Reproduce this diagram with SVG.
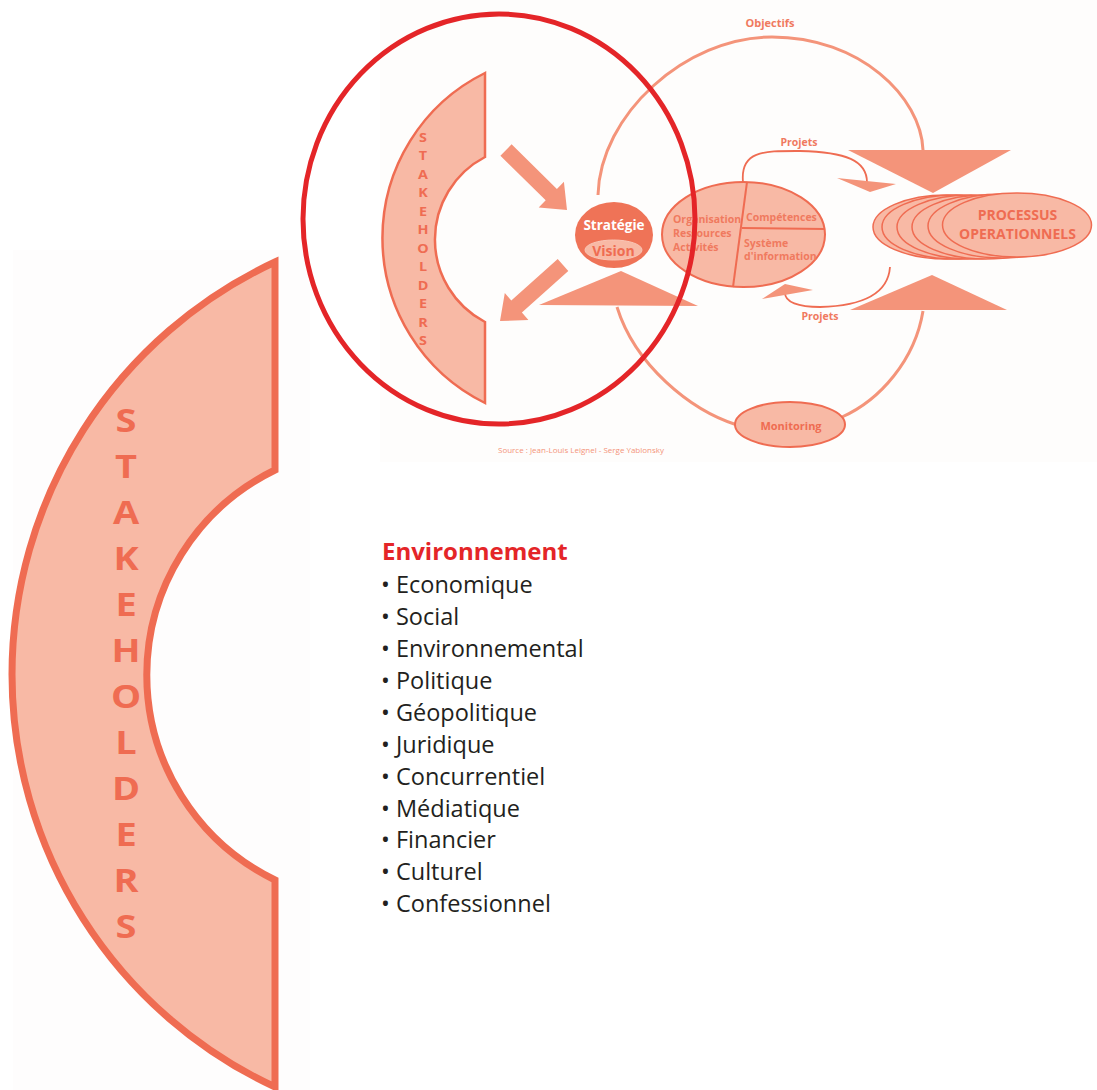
<svg xmlns="http://www.w3.org/2000/svg" width="1097" height="1090" viewBox="0 0 1097 1090">
<style>
.shape{fill:#f8b9a5;stroke:#ef6c52;}
.med{fill:#f4947a;stroke:none;}
.loop{fill:none;stroke:#f4947a;stroke-width:3;}
.lbl{font-family:"Open Sans","Liberation Sans",sans-serif;font-weight:bold;fill:#ef6c52;}
.lbl2{font-family:"Open Sans","Liberation Sans",sans-serif;font-weight:bold;fill:#f07a5f;}
.item{font-family:"Open Sans","Liberation Sans",sans-serif;font-size:23.5px;fill:#231f20;}
.mid{text-anchor:middle;}
</style>
<rect x="0" y="0" width="1097" height="1090" fill="#ffffff"/>
<rect x="380" y="0" width="717" height="462" fill="#fefdfc"/>
<rect x="13" y="250" width="297" height="840" fill="#fefdfd"/>

<g id="connectors">
  <path class="loop" d="M598,195 C600,115 685,37 772,37 C860,37 921,97 923,150"/>
  <path class="loop" d="M923,311 C915,360 880,400 842,417"/>
  <path class="loop" d="M617,307 C635,365 690,410 737,425"/>
  <path fill="none" stroke="#ef6c52" stroke-width="1.8" d="M743,182 C740,150 765,151 800,151 C845,152 868,160 867,184"/>
  <polygon points="837,178 896,184 870,192" fill="#f4947a"/>
  <path fill="none" stroke="#ef6c52" stroke-width="1.8" d="M890,267 C888,295 860,306 820,307 C798,307 785,302 785,293"/>
  <polygon points="762,299 785,284 813,290" fill="#f4947a"/>
  <polygon id="arrow-in" class="med" points="511.6,144.3 556.9,188.9 563.9,181.8 567,210 538.7,207.4 545.7,200.3 500.4,155.7"/>
  <polygon id="arrow-out" class="med" points="557.7,259 511.3,300.5 504.8,293 500,321 528.4,320.1 521.9,312.5 568.3,271"/>
  <polygon id="tri-strat" class="med" points="539,305 698,306 621,271"/>
  <polygon id="tri-down" class="med" points="848,150 1011,150 933,193"/>
  <polygon id="tri-up" class="med" points="850,310 1007,310 932,275"/>
</g>

<g id="big-stakeholders">
  <path class="shape" stroke-width="7" d="M275,262 A455,455 0 0,0 275,1087 L275,880 A228,228 0 0,1 275,470 Z"/>
  <g class="lbl" font-size="33" text-anchor="middle" transform="translate(126,0) scale(1.15,1)">
    <text x="0" y="432">S</text>
    <text x="0" y="478">T</text>
    <text x="0" y="524">A</text>
    <text x="0" y="570">K</text>
    <text x="0" y="616">E</text>
    <text x="0" y="662">H</text>
    <text x="0" y="708">O</text>
    <text x="0" y="754">L</text>
    <text x="0" y="800">D</text>
    <text x="0" y="846">E</text>
    <text x="0" y="892">R</text>
    <text x="0" y="938">S</text>
  </g>
</g>

<g id="small-stakeholders">
  <path class="shape" stroke-width="2.5" d="M485,73 A184,184 0 0,0 485,403 L485,322 A93,93 0 0,1 485,157 Z"/>
  <g class="lbl" font-size="12.5" text-anchor="middle" transform="translate(423,0) scale(1.15,1)">
    <text x="0" y="142">S</text>
    <text x="0" y="160.5">T</text>
    <text x="0" y="179">A</text>
    <text x="0" y="197.5">K</text>
    <text x="0" y="216">E</text>
    <text x="0" y="234.5">H</text>
    <text x="0" y="253">O</text>
    <text x="0" y="271.5">L</text>
    <text x="0" y="290">D</text>
    <text x="0" y="308.5">E</text>
    <text x="0" y="327">R</text>
    <text x="0" y="345.5">S</text>
  </g>
</g>

<g id="strategie">
  <ellipse cx="614" cy="235" rx="39" ry="33" fill="#ef7357"/>
  <ellipse cx="613.5" cy="250" rx="28.5" ry="10" fill="#f8b9a5" stroke="#f9c6b6" stroke-width="1"/>
  <text class="lbl mid" x="614" y="230" font-size="13.5" style="fill:#ffffff">Stratégie</text>
  <text class="lbl mid" x="613.5" y="255.5" font-size="14">Vision</text>
</g>

<g id="organisation">
  <ellipse class="shape" stroke-width="2" cx="743.5" cy="234.5" rx="81.5" ry="52.5"/>
  <line x1="747" y1="182" x2="733" y2="287" stroke="#ef6c52" stroke-width="2"/>
  <line x1="742" y1="228" x2="825" y2="229" stroke="#ef6c52" stroke-width="2"/>
  <g class="lbl2" font-size="10.5">
    <text x="673" y="223">Organisation</text>
    <text x="673" y="237">Ressources</text>
    <text x="673" y="251">Activités</text>
    <text x="746" y="221">Compétences</text>
    <text x="744" y="247">Système</text>
    <text x="744" y="260">d'information</text>
  </g>
</g>

<g id="processus">
  <ellipse class="shape" stroke-width="1.5" cx="947" cy="227" rx="74" ry="32"/>
  <ellipse class="shape" stroke-width="1.5" cx="956" cy="227" rx="74" ry="32"/>
  <ellipse class="shape" stroke-width="1.5" cx="971" cy="227" rx="74" ry="32"/>
  <ellipse class="shape" stroke-width="1.5" cx="986" cy="227" rx="74" ry="32"/>
  <ellipse class="shape" stroke-width="1.5" cx="1002" cy="226" rx="74" ry="32"/>
  <ellipse class="shape" stroke-width="1.5" cx="1017" cy="225" rx="74.5" ry="32"/>
  <text class="lbl mid" x="1017.5" y="220" font-size="14">PROCESSUS</text>
  <text class="lbl mid" x="1017.5" y="238.5" font-size="14">OPERATIONNELS</text>
</g>

<g id="monitoring">
  <ellipse class="shape" stroke-width="2" cx="790" cy="424.5" rx="55" ry="22.5"/>
  <text class="lbl mid" x="791" y="430" font-size="11">Monitoring</text>
</g>

<g id="labels">
  <text class="lbl2 mid" x="770" y="27" font-size="11">Objectifs</text>
  <text class="lbl2 mid" x="799" y="146" font-size="10.5">Projets</text>
  <text class="lbl2 mid" x="820" y="320" font-size="10.5">Projets</text>
  <text x="498" y="453" font-family="'Open Sans','Liberation Sans',sans-serif" font-size="7.5" fill="#f4947a" textLength="166" lengthAdjust="spacingAndGlyphs">Source : Jean-Louis Leignel - Serge Yablonsky</text>
</g>

<g id="red-circle">
  <ellipse cx="499" cy="219" rx="196" ry="205" fill="none" stroke="#e42528" stroke-width="5"/>
</g>

<g id="environnement">
  <text x="382" y="560" font-family="'Open Sans','Liberation Sans',sans-serif" font-weight="bold" font-size="24" fill="#e42528">Environnement</text>
  <text class="item" x="381" y="593">• Economique</text>
  <text class="item" x="381" y="625">• Social</text>
  <text class="item" x="381" y="657">• Environnemental</text>
  <text class="item" x="381" y="689">• Politique</text>
  <text class="item" x="381" y="721">• Géopolitique</text>
  <text class="item" x="381" y="753">• Juridique</text>
  <text class="item" x="381" y="785">• Concurrentiel</text>
  <text class="item" x="381" y="817">• Médiatique</text>
  <text class="item" x="381" y="848">• Financier</text>
  <text class="item" x="381" y="880">• Culturel</text>
  <text class="item" x="381" y="912">• Confessionnel</text>
</g>
</svg>
